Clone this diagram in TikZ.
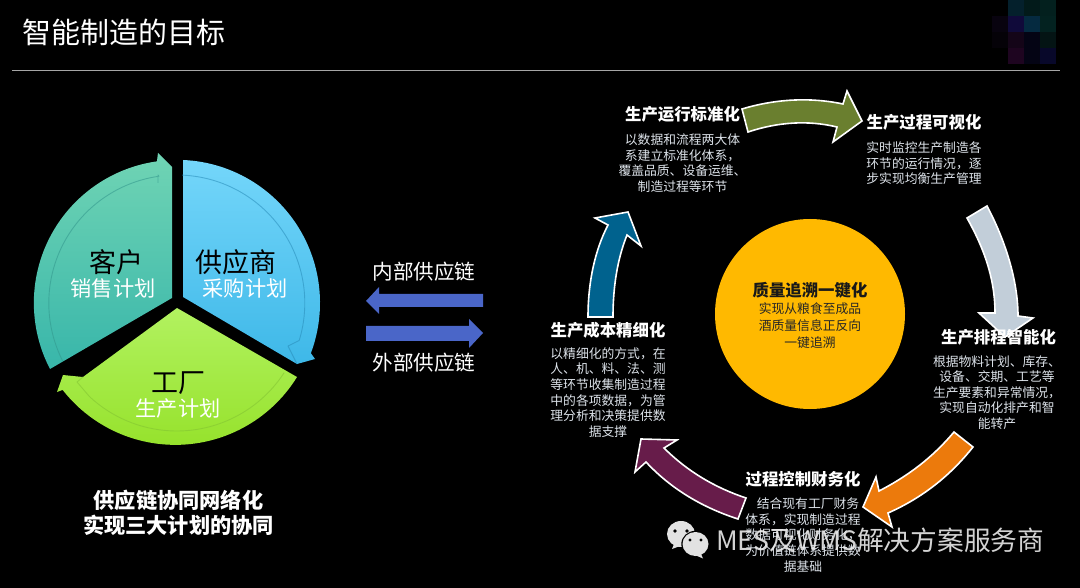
\documentclass[tikz,border=0pt]{standalone}
\usepackage{fontspec}
\setmainfont{Noto Sans CJK SC}
\usetikzlibrary{calc}
\definecolor{bodytxt}{HTML}{DDE3EA}
\definecolor{flowblue}{HTML}{4A66C8}
\definecolor{wmgrey}{HTML}{E2E2E2}
\tikzset{
  x=1pt,y=-1pt,
  cyc/.style={draw=white,line width=1.6pt,line join=miter,miter limit=6},
  ttl/.style={text=white,font=\fontsize{16.4}{18}\selectfont\bfseries,inner sep=0pt},
  bdy/.style={text=bodytxt,font=\fontsize{12.8}{15.6}\selectfont,align=center,inner sep=0pt},
  planbig/.style={text=black,font=\fontsize{27}{29}\selectfont,inner sep=0pt},
  plansub/.style={text=white,font=\fontsize{21.2}{23}\selectfont,inner sep=0pt},
  band/.style={line width=0.9pt,line join=round,opacity=0.55},
  chain/.style={text=white,font=\fontsize{20.6}{23}\selectfont,inner sep=0pt},
  lower/.style={text=white,font=\fontsize{21.2}{25.2}\selectfont\bfseries,align=center,inner sep=0pt},
}
\begin{document}
\begin{tikzpicture}
\useasboundingbox (0,0) rectangle (1080,588);
\fill[black] (0,0) rectangle (1080,588);
% mosaic
\foreach \xa/\ya/\c in {1008/0/04202C,1024/0/021A1A,1040/0/03201E,
  992/16/08030F,1008/16/100A3A,1024/16/052A40,1040/16/032220,
  992/32/050208,1008/32/140518,1024/32/040414,1040/32/041414,
  1008/48/1E0520,1024/48/040414,1040/48/08082A}{
  \definecolor{mc}{HTML}{\c}
  \fill[mc] (\xa,\ya) rectangle ++(16,16);
}
% title
\node[text=white,anchor=west,inner sep=0pt,font=\fontsize{29}{32}\selectfont] (title) at (22,32) {智能制造的目标};
\coordinate (ruleL) at (12,71);
\coordinate (ruleR) at (1060,71);
\draw[color=black!35!white,line width=1pt] (ruleL) -- (ruleR);
% pie
\coordinate (c) at (176.8,303);
% customer
\shade[top color={rgb,255:red,112;green,212;blue,180},bottom color={rgb,255:red,56;green,182;blue,170}]
  (50,369) arc[start angle=152.5,end angle=262,radius=143] -- (158,153) -- (172,167) -- (172,298) -- cycle;
\draw[band,color={rgb,255:red,50;green,150;blue,140}]
  ($(c)+(153:128)$) arc[start angle=153,end angle=262,radius=128] -- (158,175) -- (158,183);
% supplier
\shade[top color={rgb,255:red,116;green,214;blue,250},bottom color={rgb,255:red,62;green,184;blue,232}]
  (183,160) arc[start angle=272.4,end angle=380.6,radius=143] -- (315,359) -- (297,364) -- (183,297) -- cycle;
\draw[band,color={rgb,255:red,40;green,140;blue,185}]
  ($(c)+(272.4:128)$) arc[start angle=272.4,end angle=377,radius=128] -- (288,346) -- (297,364);
% factory
\shade[top color={rgb,255:red,178;green,242;blue,96},bottom color={rgb,255:red,150;green,226;blue,44}]
  (177,308) -- (297,377) arc[start angle=31.7,end angle=142,radius=143] -- (57,392) -- (63,375) -- (83,377) -- cycle;
\draw[band,color={rgb,255:red,130;green,195;blue,50}]
  ($(c)+(33:128)$) arc[start angle=33,end angle=133,radius=128] -- (77,382) -- (83,377);
\node[planbig] (kehu) at (116,262) {客户};
\node[plansub] (xs) at (113,288) {销售计划};
\node[planbig] (gys) at (236,262) {供应商};
\node[plansub] (cg) at (245,288) {采购计划};
\node[planbig] (gc) at (178,383) {工厂};
\node[plansub] (sc) at (178,409) {生产计划};
\node[lower] (low) at (178.5,512.5) {供应链协同网络化\\实现三大计划的协同};
% flow arrows
\node[chain] (nei) at (424,272) {内部供应链};
\node[chain] (wai) at (424,363) {外部供应链};
\fill[flowblue] (366,301) -- (379,287) -- (379,294) -- (483,294) -- (483,307) -- (379,307) -- (379,314) -- cycle;
\fill[flowblue] (366,326) -- (469,326) -- (469,319) -- (483,333) -- (469,348) -- (469,341) -- (366,341) -- cycle;
% cycle arrows
\draw[cyc,fill={rgb,255:red,106;green,127;blue,47}]
  (742,109) .. controls (775,99) and (810,97) .. (843,104) -- (847,91) -- (862,121) -- (833,142) -- (837,127)
  .. controls (808,120) and (778,122) .. (748,132) -- cycle;
\draw[cyc,fill={rgb,255:red,194;green,206;blue,217}]
  (987,206) .. controls (1005,240) and (1018,280) .. (1018,316) -- (1033,318) -- (1005,337) -- (979,313) -- (995,313)
  .. controls (995,280) and (985,250) .. (967,218) -- cycle;
\draw[cyc,fill={rgb,255:red,236;green,122;blue,12}]
  (954,432) .. controls (932,458) and (908,476) .. (879,491) -- (876,477) -- (863,507) -- (892,527) -- (888,513)
  .. controls (922,498) and (950,476) .. (973,447) -- cycle;
\draw[cyc,fill={rgb,255:red,103;green,28;blue,74}]
  (746,498) .. controls (716,488) and (688,472) .. (664,448) -- (677,440) -- (641,439) -- (635,472) -- (646,462)
  .. controls (672,490) and (704,508) .. (738,519) -- cycle;
\draw[cyc,fill={rgb,255:red,0;green,98;blue,142}]
  (588,317) .. controls (588,282) and (595,250) .. (608,225) -- (595,218) -- (628,212) -- (641,246) -- (627,235)
  .. controls (617,260) and (613,288) .. (613,317) -- cycle;
% centre
\node[circle,fill={rgb,255:red,255;green,185;blue,0},minimum size=190pt,inner sep=0pt] (hub) at (810,314) {};
\node[text=black!90,inner sep=0pt,font=\fontsize{16.4}{18}\selectfont\bfseries] (hubt) at (810,290) {质量追溯一键化};
\node[text=black!85,font=\fontsize{12.8}{17}\selectfont,align=center,inner sep=0pt] (hubb) at (810,326) {实现从粮食至成品\\酒质量信息正反向\\一键追溯};
% labels
\node[ttl] (t1) at (682.5,114) {生产运行标准化};
\node[bdy] (b1) at (682.5,163) {以数据和流程两大体\\系建立标准化体系，\\覆盖品质、设备运维、\\制造过程等环节};
\node[ttl] (t2) at (924,122) {生产过程可视化};
\node[bdy] (b2) at (924,163.5) {实时监控生产制造各\\环节的运行情况，逐\\步实现均衡生产管理};
\node[ttl] (t3) at (998.5,337) {生产排程智能化};
\node[bdy] (b3) at (997,392.5) {根据物料计划、库存、\\设备、交期、工艺等\\生产要素和异常情况，\\实现自动化排产和智\\能转产};
\node[ttl] (t4) at (803,479) {过程控制财务化};
\node[bdy] (b4) at (803,535) {\hspace*{10pt}结合现有工厂财务\\体系，实现制造过程\\数据可视化财务化，\\为价值链体系提供数\\据基础};
\node[ttl] (t5) at (608,330) {生产成本精细化};
\node[bdy] (b5) at (608,392.5) {以精细化的方式，在\\人、机、料、法、测\\等环节收集制造过程\\中的各项数据，为管\\理分析和决策提供数\\据支撑};
% watermark
\fill[wmgrey] (681,534) ellipse[x radius=14,y radius=13];
\fill[wmgrey] (674,544) -- (672,549) -- (680,546) -- cycle;
\fill[black] (695.5,544) ellipse[x radius=14.2,y radius=13.2];
\fill[wmgrey] (695.5,544) ellipse[x radius=13,y radius=12];
\fill[wmgrey] (701,554) -- (703,558.5) -- (696,555.5) -- cycle;
\fill[black] (675,531) circle[radius=1.9] (687,531) circle[radius=1.9] (690,540) circle[radius=1.6] (701,540) circle[radius=1.6];
\node[text=white!92!black,opacity=0.9,anchor=west,inner sep=0pt,font=\fontsize{26.7}{30}\selectfont] (wm) at (716,540) {MES及WMS解决方案服务商};
\end{tikzpicture}
\end{document}
